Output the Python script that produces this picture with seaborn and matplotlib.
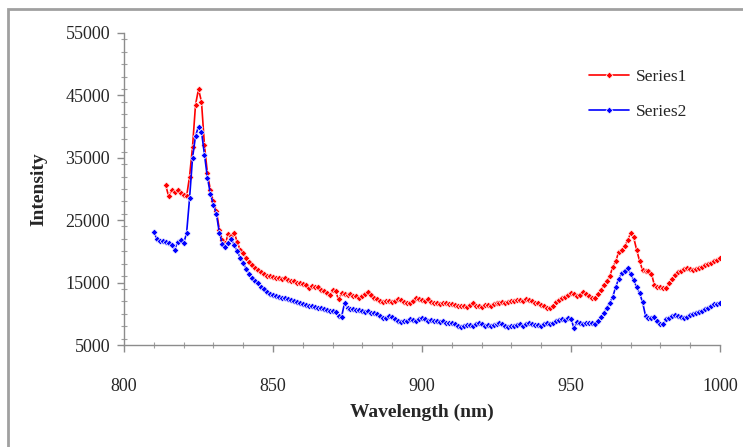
import numpy as np
import pandas as pd
import matplotlib
matplotlib.use('Agg')
import matplotlib.pyplot as plt
import seaborn as sns
from matplotlib.patches import Rectangle
from matplotlib.ticker import MultipleLocator

# Series2 (blue): 810 .. 1000 nm, one reading per nm
wl_blue = list(range(810, 1001))
int_blue = [
    23100, 22000, 21700, 21600, 21500, 21300, 21000, 20300, 21500, 21800,   # 810-819
    21300, 22900, 28500, 35000, 38500, 40000, 39200, 35500, 31800, 29200,   # 820-829
    27500, 26000, 23000, 21200, 20700, 21300, 22000, 21000, 20000, 19000,   # 830-839
    18200, 17200, 16400, 15700, 15200, 14900, 14300, 13900, 13500, 13100,   # 840-849
    13000, 12900, 12700, 12500, 12600, 12300, 12200, 12000, 11900, 11700,   # 850-859
    11600, 11400, 11300, 11200, 11100, 11000, 10900, 10800, 10600, 10500,   # 860-869
    10400, 10300, 9600, 9500, 11700, 10900, 10800, 10700, 10600, 10600,     # 870-879
    10500, 10300, 10400, 10200, 10100, 9900, 9600, 9300, 9400, 9600,        # 880-889
    9500, 9200, 8900, 8700, 8800, 8900, 9100, 9000, 8800, 9200,             # 890-899
    9300, 9100, 8900, 9000, 8800, 8900, 8700, 8800, 8600, 8500,             # 900-909
    8500, 8300, 8000, 7900, 8100, 8200, 8200, 8000, 8300, 8500,             # 910-919
    8300, 8100, 8200, 8000, 8200, 8400, 8500, 8300, 8100, 7900,             # 920-929
    8000, 8100, 8200, 8300, 8100, 8400, 8500, 8300, 8200, 8200,             # 930-939
    8100, 8300, 8500, 8400, 8600, 8800, 9000, 9100, 9000, 9300,             # 940-949
    9200, 7700, 8700, 8600, 8400, 8500, 8600, 8500, 8300, 8800,             # 950-959
    9500, 10200, 11000, 11800, 12700, 14300, 15600, 16500, 16900, 17300,    # 960-969
    16400, 15400, 14300, 13300, 11900, 9700, 9300, 9400, 9500, 8900,        # 970-979
    8300, 8400, 9100, 9300, 9600, 9800, 9700, 9500, 9300, 9500,             # 980-989
    9800, 9900, 10100, 10300, 10500, 10800, 11000, 11200, 11600, 11500,     # 990-999
    11800,                                                                  # 1000
]

# Series1 (red): 814 .. 1000 nm
wl_red = list(range(814, 1001))
int_red = [
    30600, 28800, 29800, 29500, 29800, 29300,                               # 814-819
    29000, 28800, 32000, 36800, 43500, 46000, 44000, 37000, 32500, 29800,   # 820-829
    28000, 26500, 23500, 21800, 21300, 22800, 22500, 23000, 21500, 20200,   # 830-839
    19800, 18900, 18300, 17800, 17400, 17000, 16700, 16300, 16100, 16000,   # 840-849
    15900, 15800, 15700, 15600, 15700, 15400, 15200, 15300, 15000, 14900,   # 850-859
    14800, 14600, 14100, 14500, 14300, 14300, 13800, 13600, 13400, 13000,   # 860-869
    13800, 13600, 12300, 13300, 13200, 13000, 13100, 12900, 12800, 12500,   # 870-879
    12800, 13200, 13500, 13000, 12500, 12300, 12000, 11900, 12100, 12000,   # 880-889
    11900, 12100, 12300, 12200, 11900, 11700, 11700, 12100, 12500, 12300,   # 890-899
    12200, 12100, 12300, 11900, 11700, 11800, 11600, 11700, 11700, 11500,   # 900-909
    11600, 11400, 11300, 11200, 11300, 11100, 11400, 11700, 11300, 11200,   # 910-919
    11100, 11400, 11400, 11300, 11600, 11700, 11700, 11900, 11800, 11900,   # 920-929
    12100, 12000, 12200, 12200, 12000, 12300, 12200, 12000, 11700, 11700,   # 930-939
    11400, 11200, 11000, 10900, 11300, 11900, 12200, 12500, 12700, 13000,   # 940-949
    13300, 13100, 12900, 13000, 13500, 13100, 12800, 12600, 12500, 13200,   # 950-959
    13800, 14600, 15300, 16000, 17500, 18400, 19900, 20300, 20800, 21800,   # 960-969
    22900, 22300, 20300, 18500, 17000, 16800, 16900, 16400, 14600, 14300,   # 970-979
    14300, 14200, 14100, 15000, 15500, 16200, 16700, 16900, 17200, 17300,   # 980-989
    17100, 17000, 17200, 17400, 17500, 17800, 18000, 18200, 18400, 18600,   # 990-999
    18900,                                                                  # 1000
]

df = pd.concat([
    pd.DataFrame({'Wavelength': wl_red, 'Intensity': int_red, 'Series': 'Series1'}),
    pd.DataFrame({'Wavelength': wl_blue, 'Intensity': int_blue, 'Series': 'Series2'}),
])

sns.set_style('white')
plt.rcParams['font.family'] = ['Liberation Serif', 'DejaVu Serif']

fig = plt.figure(figsize=(7.43, 4.47), dpi=100)
ax = fig.add_axes([124 / 743, 1 - 345 / 447, 596 / 743, 312 / 447])

sns.lineplot(data=df, x='Wavelength', y='Intensity', hue='Series',
             palette={'Series1': '#ff0000', 'Series2': '#0000ff'},
             marker='D', markersize=3.5, markeredgewidth=0.5, linewidth=1.2,
             ax=ax)

ax.set_xlim(800, 1000)
ax.set_ylim(5000, 55000)
ax.xaxis.set_major_locator(MultipleLocator(50))
ax.xaxis.set_minor_locator(MultipleLocator(10))
ax.yaxis.set_minor_locator(MultipleLocator(2000))
ax.set_yticks(range(5000, 55001, 10000))

for s in ['top', 'right']:
    ax.spines[s].set_visible(False)
for s in ['left', 'bottom']:
    ax.spines[s].set_color('#8c8c8c')
    ax.spines[s].set_linewidth(1)

ax.tick_params(which='both', bottom=True, left=True)
ax.tick_params(which='major', direction='out', length=5, width=1,
               color='#8c8c8c', labelsize=13)
ax.tick_params(which='minor', direction='inout', length=4, width=0.8,
               color='#a0a0a0')
ax.tick_params(axis='x', which='major', pad=19)
ax.tick_params(axis='y', which='major', pad=5)

ax.set_xlabel('Wavelength (nm)', fontsize=14, fontweight='bold', labelpad=6)
ax.set_ylabel('Intensity', fontsize=14, fontweight='bold', labelpad=13)

leg = ax.legend(loc='upper left', bbox_to_anchor=(573 / 743, 1 - 53 / 447),
                bbox_transform=fig.transFigure, frameon=False, fontsize=12.5,
                handlelength=2.3, labelspacing=1.1, handletextpad=0.4)

# outer chart-area frame
fig.add_artist(Rectangle((8 / 743, -0.1), 1.2, 1.1 - 9 / 447,
                         transform=fig.transFigure, fill=False,
                         edgecolor='#a0a0a0', linewidth=2))

plt.savefig('out.png', dpi=100)
plt.close()
